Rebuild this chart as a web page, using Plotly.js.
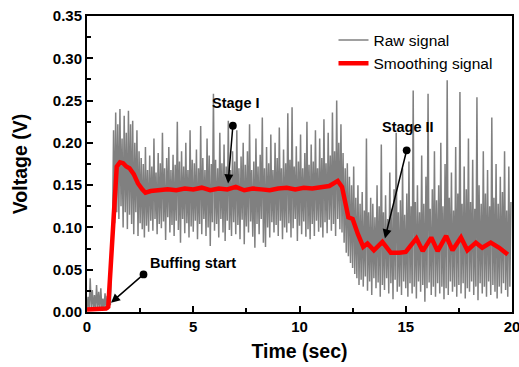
<!DOCTYPE html>
<html>
<head>
<meta charset="utf-8">
<script src="https://cdn.plot.ly/plotly-3.0.1.min.js"></script>
<style>html,body{margin:0;padding:0;background:#fff}#chart{width:519px;height:367px}</style>
</head>
<body>
<div id="chart"></div>
<script>
// Raw signal: sampled every 0.05 s starting at t = 0
var rawStart = 0;
var rawStep = 0.05;
var rawValues = [
0.004,0.018,0.002,0.040,0.005,0.026,0.003,0.020,0.002,0.032,
0.004,0.024,0.003,0.028,0.002,0.016,0.004,0.022,0.003,0.019,
0.003,0.015,0.008,0.060,0.100,0.215,0.105,0.236,0.118,0.222,
0.110,0.240,0.125,0.205,0.100,0.232,0.118,0.212,0.098,0.238,
0.115,0.222,0.104,0.226,0.092,0.200,0.118,0.215,0.090,0.190,
0.105,0.182,0.098,0.175,0.088,0.195,0.102,0.168,0.095,0.185,
0.108,0.172,0.096,0.205,0.110,0.165,0.092,0.188,0.104,0.176,
0.099,0.212,0.107,0.170,0.085,0.182,0.112,0.195,0.094,0.168,
0.103,0.186,0.090,0.174,0.108,0.225,0.097,0.178,0.082,0.190,
0.110,0.172,0.093,0.200,0.105,0.168,0.088,0.215,0.101,0.180,
0.095,0.176,0.108,0.192,0.086,0.170,0.104,0.220,0.092,0.182,
0.110,0.168,0.090,0.205,0.100,0.185,0.078,0.175,0.106,0.258,
0.096,0.180,0.104,0.170,0.088,0.212,0.110,0.176,0.094,0.198,
0.084,0.172,0.108,0.226,0.097,0.168,0.090,0.190,0.106,0.178,
0.092,0.215,0.103,0.170,0.086,0.184,0.109,0.200,0.080,0.174,
0.101,0.190,0.094,0.222,0.107,0.168,0.089,0.178,0.076,0.205,
0.104,0.172,0.092,0.186,0.110,0.230,0.082,0.170,0.077,0.195,
0.100,0.176,0.088,0.210,0.106,0.168,0.094,0.200,0.103,0.182,
0.090,0.218,0.108,0.170,0.086,0.192,0.100,0.176,0.094,0.235,
0.105,0.180,0.088,0.242,0.099,0.172,0.110,0.196,0.084,0.178,
0.102,0.210,0.092,0.170,0.107,0.188,0.089,0.225,0.098,0.174,
0.086,0.198,0.104,0.178,0.090,0.215,0.108,0.170,0.095,0.205,
0.100,0.182,0.088,0.228,0.106,0.176,0.093,0.212,0.109,0.185,
0.096,0.236,0.104,0.190,0.090,0.250,0.110,0.200,0.098,0.222,
0.094,0.188,0.082,0.170,0.070,0.176,0.066,0.160,0.058,0.150,
0.052,0.172,0.045,0.135,0.040,0.150,0.032,0.128,0.038,0.142,
0.030,0.120,0.042,0.205,0.025,0.118,0.036,0.135,0.020,0.128,
0.040,0.112,0.028,0.150,0.035,0.125,0.018,0.198,0.032,0.118,
0.026,0.138,0.040,0.110,0.022,0.165,0.034,0.122,0.015,0.145,
0.038,0.212,0.024,0.118,0.030,0.132,0.020,0.170,0.036,0.115,
0.028,0.140,0.018,0.178,0.034,0.125,0.022,0.262,0.030,0.130,
0.016,0.150,0.036,0.118,0.024,0.185,0.032,0.128,0.012,0.160,
0.028,0.258,0.035,0.122,0.020,0.145,0.030,0.190,0.018,0.132,
0.034,0.150,0.022,0.200,0.030,0.125,0.015,0.175,0.028,0.274,
0.020,0.135,0.036,0.165,0.024,0.120,0.030,0.195,0.018,0.140,
0.032,0.260,0.022,0.128,0.034,0.172,0.016,0.145,0.028,0.205,
0.024,0.130,0.036,0.180,0.020,0.122,0.030,0.254,0.014,0.150,
0.034,0.128,0.022,0.190,0.030,0.140,0.018,0.168,0.036,0.125,
0.020,0.230,0.032,0.135,0.024,0.175,0.016,0.128,0.030,0.160,
0.022,0.142,0.034,0.190,0.026,0.120,0.018,0.172,0.030,0.130
];

var smoothTime = [0,0.5,0.9,1.0,1.1,1.2,1.3,1.4,1.55,1.7,1.85,2.0,2.2,2.4,2.6,2.75,
3.0,3.4,3.8,4.2,4.6,5.0,5.4,5.8,6.2,6.6,7.0,7.4,7.8,8.2,8.6,9.0,9.4,9.8,10.2,10.6,11.0,11.4,11.8,
12.0,12.3,12.5,12.75,13.0,13.2,13.5,13.9,14.3,14.7,15.0,15.5,15.8,16.2,16.5,16.9,17.2,17.6,17.9,18.3,18.6,19.0,19.4,19.8];
var smoothValues = [0.003,0.004,0.004,0.006,0.05,0.095,0.14,0.172,0.177,0.176,0.172,0.170,0.163,0.152,0.145,0.141,
0.143,0.144,0.145,0.144,0.146,0.145,0.147,0.144,0.146,0.145,0.148,0.144,0.146,0.145,0.144,0.146,0.147,0.145,0.147,0.146,0.148,0.149,0.155,
0.148,0.112,0.110,0.092,0.077,0.081,0.073,0.083,0.070,0.070,0.071,0.087,0.072,0.088,0.072,0.090,0.073,0.088,0.073,0.082,0.076,0.082,0.076,0.068];

var xTickVals = [0,5,10,15,20];
var yTickVals = [0,0.05,0.10,0.15,0.20,0.25,0.30,0.35];
var yTickText = ["0.00","0.05","0.10","0.15","0.20","0.25","0.30","0.35"];

var rawTime = rawValues.map(function(_, i){ return +(rawStart + i*rawStep).toFixed(3); });

var FONT = "Liberation Sans, Arial, sans-serif";
var bold = {family: FONT, size: 15, color: "#000", weight: "bold"};

var traces = [
  {x: rawTime, y: rawValues, type: "scatter", mode: "lines", name: "Raw signal",
   line: {color: "#808080", width: 1.5}},
  {x: smoothTime, y: smoothValues, type: "scatter", mode: "lines", name: "Smoothing signal",
   line: {color: "#ff0000", width: 4.5}}
];

function arrow(hx, hy, tx, ty) {
  return {x: hx, y: hy, ax: tx, ay: ty, axref: "x", ayref: "y", xref: "x", yref: "y",
    text: "", showarrow: true, arrowhead: 2, arrowsize: 1.2, arrowwidth: 1.5, arrowcolor: "#000",
    arrowside: "end+start", startarrowhead: 6, startarrowsize: 1.3};
}
function label(x, y, t) {
  return {x: x, y: y, xref: "x", yref: "y", text: t, showarrow: false,
    font: {family: FONT, size: 14.5, color: "#000", weight: "bold"}};
}

var layout = {
  width: 519, height: 367,
  margin: {l: 87, r: 7, t: 16, b: 55},
  paper_bgcolor: "#fff", plot_bgcolor: "#fff",
  showlegend: true,
  legend: {x: 0.58, y: 0.975, xanchor: "left", yanchor: "top", bgcolor: "rgba(0,0,0,0)",
    font: {family: FONT, size: 15.5, color: "#000"},
    tracegroupgap: 0, itemwidth: 30},
  xaxis: {range: [0, 20], showgrid: false, zeroline: false, showline: true, linecolor: "#000", linewidth: 2,
    mirror: true, ticks: "inside", ticklen: 6, tickwidth: 2, tickcolor: "#000",
    tickvals: xTickVals, tickfont: bold, ticklabeloverflow: "allow",
    minor: {dtick: 2.5, ticks: "inside", ticklen: 4, tickwidth: 2, tickcolor: "#000", showgrid: false},
    title: {text: "Time (sec)", font: {family: FONT, size: 19.5, color: "#000", weight: "bold"}, standoff: 10}},
  yaxis: {range: [0, 0.35], showgrid: false, zeroline: false, showline: true, linecolor: "#000", linewidth: 2,
    mirror: true, ticks: "inside", ticklen: 6, tickwidth: 2, tickcolor: "#000",
    tickvals: yTickVals, ticktext: yTickText, tickfont: bold,
    minor: {dtick: 0.025, ticks: "inside", ticklen: 4, tickwidth: 2, tickcolor: "#000", showgrid: false},
    title: {text: "Voltage (V)", font: {family: FONT, size: 19.5, color: "#000", weight: "bold"}, standoff: 20}},
  annotations: [
    arrow(6.64, 0.152, 6.87, 0.222), label(7.0, 0.247, "Stage I"),
    arrow(14.02, 0.087, 15.06, 0.193), label(15.1, 0.219, "Stage II"),
    arrow(1.13, 0.011, 2.73, 0.046), label(5.0, 0.058, "Buffing start")
  ]
};

Plotly.newPlot("chart", traces, layout, {displayModeBar: false, staticPlot: true});
</script>
</body>
</html>
